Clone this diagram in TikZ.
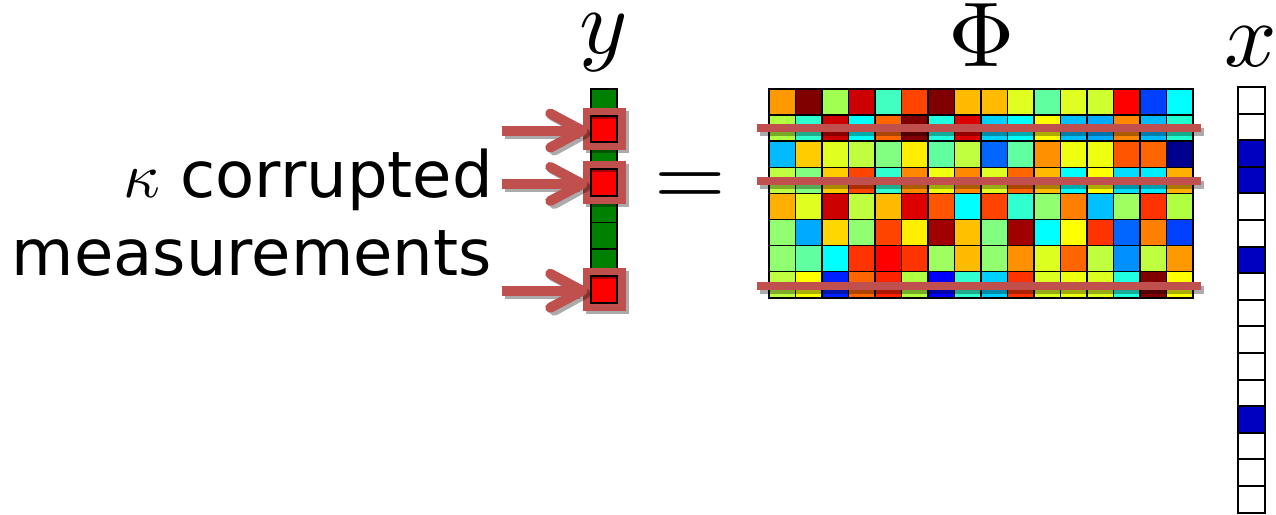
\documentclass[tikz,border=0pt]{standalone}
\usepackage{fontspec}
\newfontfamily\dejavu{DejaVu Sans}
\definecolor{accent}{HTML}{C0504D}
\definecolor{ygreen}{HTML}{008000}
\definecolor{xblue}{HTML}{0000C0}
\definecolor{redcellc}{HTML}{FF0000}
\newcommand\labmath[1]{\scalebox{6.9}{\fontsize{10}{12}\selectfont$#1$}}
\newcommand\kapmath{\scalebox{4.8}{\fontsize{10}{12}\selectfont$\kappa$}}
\begin{document}
\begin{tikzpicture}[x=0.75pt,y=-0.75pt,
  ycell/.style={rectangle, draw=black, line width=1.4pt, fill=ygreen,
    minimum width=19.5pt, minimum height=20pt, inner sep=0pt, outer sep=0pt},
  redcell/.style={ycell, fill=redcellc,
    path picture={\fill[red!65!black] (path picture bounding box.north west) rectangle ([yshift=-2.5pt]path picture bounding box.north east);}},
  frame/.style={rectangle, draw=accent, line width=6pt,
    minimum width=25.9pt, minimum height=26pt, inner sep=0pt, outer sep=0pt},
  frameshadow/.style={frame, draw=black, draw opacity=0.33},
  arr/.style={draw=accent, line width=7.5pt, line cap=round, line join=round},
  arrshadow/.style={arr, draw=black, draw opacity=0.33},
  bar/.style={draw=accent, line width=6pt},
  barshadow/.style={draw=black, draw opacity=0.33, line width=6pt},
  xcell/.style={rectangle, draw=black, line width=1.4pt, fill=white,
    minimum width=20.25pt, minimum height=19.95pt, inner sep=0pt, outer sep=0pt},
  lab/.style={inner sep=0pt},
  txt/.style={font=\dejavu\fontsize{48}{58}\selectfont, inner sep=0pt}]
\useasboundingbox (0,0) rectangle (1276,514);

% ---- labels
\node[txt, anchor=base east] (t1) at (493,197) {\kapmath{} corrupted};
\node[txt, anchor=base east] (t2) at (492,275) {measurements};
\node[lab, anchor=base] (ylab) at (604,53) {\labmath{y}};
\node[lab, anchor=base] (philab) at (982,66) {\labmath{\Phi}};
\node[lab, anchor=base] (xlab) at (1251,66) {\labmath{x}};
\node[lab, anchor=base] (eq) at (690,206) {\labmath{=}};

% ---- y vector
\foreach \i in {1,...,8}
  \node[ycell] (y\i) at (604,{89+(\i-0.5)*26.7}) {};
\foreach \r in {2,4,8} {
  \node[frameshadow] at (607.5,{89+(\r-0.5)*26.7+3}) {};
  \node[frame] (f\r) at (604.5,{89+(\r-0.5)*26.7}) {};
  \node[redcell] (r\r) at (y\r) {};
  \coordinate (a\r) at (502,{89+(\r-0.5)*26.7+1.5});
  \coordinate (t\r) at ([shift={(-5,1.5)}]f\r.west);
  % shadow
  \draw[arrshadow, line cap=butt] ([shift={(3,3)}]a\r) -- ([shift={(-2,3)}]t\r);
  \draw[arrshadow] ([shift={(-30,-15)}]t\r) -- ([shift={(3,3)}]t\r) -- ([shift={(-28,20)}]t\r);
  % arrow
  \draw[arr, line cap=butt] (a\r) -- ([shift={(-4,0)}]t\r);
  \draw[arr] ([shift={(-32,-17)}]t\r) -- (t\r) -- ([shift={(-32,17)}]t\r);
}

% ---- Phi matrix
\foreach \row [count=\r] in {
 {FF9900,800000,A0FF50,CC0000,40FFC0,FF4400,800000,FFBB00,FFBB00,E0FF20,60FFA0,E0FF20,D0FF30,FF0000,0040FF,00FFFF},
 {B0FF40,30FFD0,CC0000,00FFFF,FF6600,800000,20FFE0,DD0000,00D0FF,00FFFF,FFFF00,00BFFF,00AAFF,FF8800,00BBFF,20FFD0},
 {00BBFF,FFCC00,E0FF20,C0FF40,80FF80,FFEE00,60FFA0,C0FF40,0066FF,60FFA0,FF9000,EEFF10,EEFF10,FF5500,FF6600,000090},
 {C0FF40,80FF80,FFCC00,FF4400,30FFD0,FF8800,F0FF10,FF8800,E0FF20,FF6600,FFBB00,00FFFF,FFFF00,00DDFF,00EEFF,FFB000},
 {FFB000,E0FF20,CC0000,C0FF40,FFBB00,DD0000,FF5500,00FFFF,FF4400,30FFD0,90FF70,FF8000,00C0FF,A0FF60,FF3300,B0FF40},
 {90FF70,00AAFF,FFD700,90FF70,FF4400,FFEE00,A00000,FFC000,80FF80,A00000,00FFFF,FFFF00,FF3300,0066FF,FF8000,0040FF},
 {90FF70,60FFA0,00FFFF,FF3300,FF0000,FF3300,A0FF60,FFBB00,90FF70,FF9000,DDFF20,FF6600,C0FF40,0090FF,C0FF40,FF9900},
 {C0FF40,FFFF00,0020FF,FF6600,FF2200,B0FF40,0000FF,30FFD0,00D0FF,FF3300,DDFF20,EEFF10,DDFF20,20FFE0,800000,FFFF00}} {
  \foreach \c [count=\k] in \row {
    \edef\tmpdef{\noexpand\definecolor{cellc}{HTML}{\c}}\tmpdef
    \filldraw[fill=cellc, draw=black, line width=1.1pt]
      ({769+(\k-1)*26.5},{89+(\r-1)*26.1}) rectangle ++(26.5,26.1);
  }
}
\draw[black, line width=1.5pt] (769,89) rectangle (1193,297.8);
\foreach \yy in {128.2,180.5,285.5} {
  \draw[barshadow] (760,\yy+4) -- (1204,\yy+4);
  \draw[bar] (757,\yy) -- (1201,\yy);
}

% ---- x vector
\foreach \i in {1,...,16}
  \node[xcell] (x\i) at (1251.5,{87+(\i-0.5)*26.6}) {};
\foreach \i in {3,4,7,13}
  \node[xcell, fill=xblue] at (x\i) {};
\end{tikzpicture}
\end{document}
